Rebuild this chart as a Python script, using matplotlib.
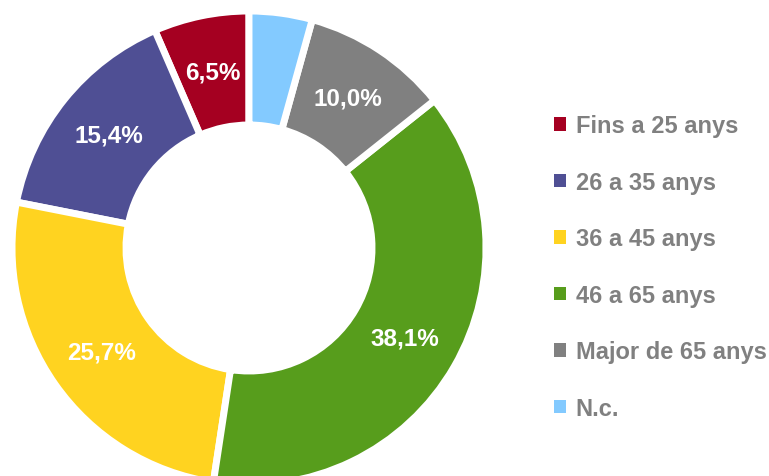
import matplotlib
matplotlib.use("Agg")
import matplotlib.pyplot as plt
import numpy as np

# data
labels = ["Fins a 25 anys", "26 a 35 anys", "36 a 45 anys", "46 a 65 anys", "Major de 65 anys", "N.c."]
values = [6.5, 15.4, 25.7, 38.1, 10.0, 4.3]
colors = ["#A50021", "#4F4F94", "#FFD320", "#579D1C", "#808080", "#83CAFF"]
shown = [True, True, True, True, True, False]

plt.rcParams["font.family"] = ["Liberation Sans", "DejaVu Sans"]

fig = plt.figure(figsize=(7.69, 4.77), dpi=100)
ax = fig.add_axes([0, 0, 1, 1])

wedges, texts = ax.pie(values, colors=colors, startangle=90, counterclock=True,
                       center=(249, 228), radius=237,
                       wedgeprops=dict(width=114, edgecolor="white", linewidth=5))

# percentage labels in the middle of the ring
for v, w, s in zip(values, wedges, shown):
    mid = np.deg2rad((w.theta1 + w.theta2) / 2)
    if s:
        r = 180
        ax.text(249 + r * np.cos(mid), 228 + r * np.sin(mid),
                ("%.1f%%" % v).replace(".", ","), color="white",
                fontsize=17.5, fontweight="bold", ha="center", va="center")

ax.set_xlim(0, 769)
ax.set_ylim(0, 477)
ax.set_aspect("equal")
ax.axis("off")

leg = ax.legend(wedges, labels, loc="center left", bbox_to_anchor=(545 / 769, 1 - 268 / 477),
                frameon=False, prop=dict(size=17, weight="bold"),
                handlelength=0.5, handleheight=0.5, handletextpad=0.4,
                labelspacing=1.42, borderaxespad=0)
for t in leg.get_texts():
    t.set_color("#808080")
for h in leg.legend_handles:
    h.set_linewidth(0)

fig.savefig("out.png", dpi=100)
